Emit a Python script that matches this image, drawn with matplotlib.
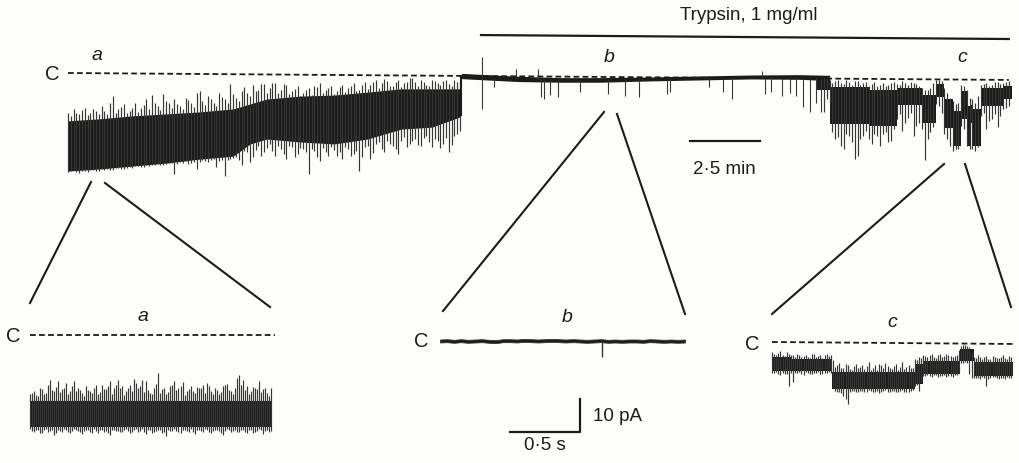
import numpy as np
import matplotlib.pyplot as plt

plt.rcParams['font.family'] = ['Liberation Sans', 'DejaVu Sans']

W, H = 1019, 464
INK = '#1b1b1b'
SPK = '#363636'

# ---------------- top record: time in min, current in pA ----------------
# a: before trypsin, dense openings
a_core_t = [0, 1.1, 2.3, 3.5, 4.7, 5.9, 6.5, 7.1, 8.3, 9.5, 10.7, 11.9, 13.0, 14.0]
a_core_top = [-14.5, -13.9, -13.0, -12.4, -11.8, -10.9, -9.4, -7.9, -7.0, -6.7, -5.8, -4.8, -4.8, -4.8]
a_core_bot = [-29.7, -29.1, -28.2, -27.3, -26.1, -25.2, -21.5, -20.0, -20.9, -21.5, -20.0, -17.0, -16.4, -13.3]
# spike tips every 0.1 min (two interleaved reads)
a_up = [-12.0, -11.0, -12.5, -10.5, -12.0, -11.5, -10.0, -12.5, -7.0, -11.0,
        -9.5, -11.5, -9.0, -10.5, -8.0, -6.8, -10.0, -6.5, -9.0, -8.0,
        -10.0, -7.5, -9.0, -6.0, -8.5, -7.0, -9.0, -6.0, -8.0, -3.2,
        -7.5, -5.5, -6.0, -3.6, -5.0, -3.3, -4.5, -3.0, -5.0, -3.5,
        -5.5, -4.0, -6.0, -4.5, -3.8, -3.0, -5.0, -4.0, -5.5, -3.5,
        -4.5, -3.0, -5.0, -2.8, -3.5, -2.0, -3.0, -2.5, -3.8, -2.2,
        -3.0, -1.6, -2.8, -2.2, -3.5, -2.0, -3.0, -2.5, -3.2, -2.0, -2.5]
a_up_mid = [-13.0, -12.2, -11.2, -12.8, -10.8, -12.4, -11.6, -9.0, -12.0, -10.4,
            -12.2, -10.6, -11.8, -9.6, -11.0, -9.2, -11.2, -8.6, -10.6, -9.4,
            -11.0, -8.2, -10.2, -5.5, -9.8, -8.0, -10.0, -7.2, -9.2, -6.5,
            -8.6, -4.2, -7.0, -5.5, -3.4, -6.0, -3.0, -6.2, -3.3, -6.5,
            -4.8, -7.0, -5.2, -6.6, -4.2, -6.0, -4.6, -6.4, -4.2, -5.8,
            -4.0, -5.6, -3.6, -4.8, -2.6, -4.4, -1.8, -4.0, -2.8, -4.2,
            -2.6, -1.5, -3.8, -2.6, -4.0, -2.4, -3.6, -2.2, -3.8, -2.6]
a_down = [-30.0, -29.5, -30.2, -29.8, -29.5, -29.8, -29.2, -29.0, -29.4, -28.8,
          -29.0, -28.5, -28.3, -28.6, -27.9, -28.0, -27.5, -27.8, -27.2, -30.6,
          -27.0, -26.8, -27.2, -29.1, -26.5, -27.0, -26.2, -26.6, -31.2, -26.0,
          -25.5, -28.0, -24.0, -25.5, -22.0, -24.0, -21.5, -25.0, -23.0, -26.0,
          -22.5, -24.5, -23.0, -30.6, -23.5, -26.7, -24.0, -22.5, -25.0, -26.1,
          -23.0, -24.5, -29.7, -22.5, -26.1, -21.5, -23.0, -20.5, -22.0, -24.5,
          -19.5, -21.5, -20.0, -22.0, -19.0, -22.4, -20.5, -21.5, -23.9, -19.0, -17.6]
a_down_mid = [-29.7, -30.1, -29.6, -29.9, -29.4, -29.6, -29.3, -29.5, -28.9, -29.2,
              -28.7, -28.9, -28.2, -28.4, -28.1, -27.8, -28.0, -27.6, -27.4, -27.6,
              -27.2, -27.5, -26.9, -27.1, -26.8, -26.4, -28.5, -26.3, -26.5, -25.8,
              -26.5, -23.5, -27.0, -23.2, -25.0, -22.8, -23.5, -22.2, -24.6, -22.0,
              -25.6, -22.6, -24.0, -23.0, -25.5, -22.8, -25.2, -23.2, -24.0, -22.4,
              -25.0, -23.6, -25.5, -22.0, -24.2, -20.8, -24.0, -21.5, -23.0, -20.5,
              -22.5, -20.6, -21.8, -19.8, -21.0, -20.0, -22.8, -19.6, -21.8, -18.5]

# b: trypsin, channel closed
b_t = [14.05, 14.7, 16.1, 17.6, 19.0, 20.8, 22.6, 24.4, 26.1, 27.2]
b_level = [-0.9, -1.2, -1.8, -2.1, -2.1, -1.8, -1.5, -1.2, -1.2, -1.5]
b_half = [0.8, 0.8, 0.8, 0.7, 0.7, 0.6, 0.6, 0.6, 0.7, 0.8]
b_spk_t = [14.8, 14.8, 15.2, 16.0, 16.8, 16.9, 17.0, 17.2, 17.5, 18.3, 19.3, 19.9, 20.4,
           21.4, 21.5, 22.9, 23.4, 23.7, 24.8, 24.9, 25.1, 25.5, 25.8, 26.0, 26.25,
           26.5, 26.7, 26.9, 27.1]
b_spk_tip = [4.8, -10.9, -4.2, 1.2, 1.2, -7.3, -7.9, -6.7, -7.3, -5.8, -6.4, -7.0, -7.3,
             -6.4, -5.8, -4.2, -5.8, -7.9, 0.6, -6.4, -5.8, -7.0, -6.0, -7.0, -10.3,
             -11.8, -9.0, -11.8, -8.0]

# c: activity returns
c_edges = [26.75, 27.2, 28.6, 29.6, 30.5, 31.0, 31.3, 31.6, 31.9, 32.1, 32.2, 32.3, 32.6, 33.4, 33.7]
c_core_top = [-2.2, -4.2, -5.0, -4.6, -6.6, -3.4, -8.0, -11.6, -5.6, -10.0, -9.6, -10.8, -4.6, -4.0]
c_core_bot = [-5.2, -15.5, -16.0, -9.8, -15.0, -7.2, -16.8, -22.0, -13.8, -22.0, -15.2, -22.0, -10.0, -8.0]
c_up = [-1.5, -2.0, -2.5, -3.0, -2.2, -3.5, -2.5, -3.0, -3.8, -2.8, -3.5, -4.0, -3.0, -3.2,
        -2.5, -3.5, -3.0, -3.8, -5.0, -4.5, -2.2, -2.5, -6.0, -8.5, -9.0, -4.0, -7.5, -9.0,
        -3.5, -3.0, -3.5, -2.8, -3.0, -2.5]
c_up_mid = [-1.8, -3.0, -2.2, -3.4, -2.8, -2.4, -3.6, -2.6, -3.2, -4.0, -3.0, -3.6, -2.8,
            -3.5, -3.0, -2.6, -3.4, -4.4, -5.2, -3.0, -2.0, -4.5, -7.5, -9.5, -3.6, -5.0,
            -8.0, -7.0, -3.2, -3.8, -2.6, -3.4, -2.8]
c_down = [-11.8, -9.0, -20.0, -22.0, -18.5, -21.0, -25.0, -19.0, -20.0, -18.5, -22.0, -18.0,
          -20.5, -14.0, -17.5, -13.5, -19.0, -15.0, -26.5, -18.0, -9.5, -12.0, -20.0, -23.5,
          -23.0, -17.0, -23.0, -23.5, -13.0, -17.0, -14.0, -16.5, -11.0, -10.0]
c_down_mid = [-7.0, -18.0, -19.5, -23.0, -19.0, -26.1, -20.0, -17.5, -21.5, -19.0, -18.5,
              -21.0, -17.0, -12.5, -15.0, -12.0, -16.0, -17.0, -20.0, -16.5, -10.0, -18.5,
              -22.0, -23.0, -16.0, -22.0, -23.0, -22.5, -12.0, -14.5, -12.5, -13.0, -10.5]

closed_top = [0.0, -2.1]          # dashed closed level, start and end of record

# ---------------- expanded records: time in s, current in pA ----------------
ea_core = (-20.0, -27.8)
ea_up = [-18.0, -17.0, -18.5, -16.5, -17.5, -13.5, -17.0, -14.0, -16.5, -14.5,
         -17.0, -13.8, -16.0, -17.5, -15.5, -17.0, -16.0, -18.0, -15.0, -16.5,
         -14.0, -16.0, -13.5, -15.5, -17.0, -15.0, -13.2, -16.0, -13.5, -14.0,
         -17.5, -16.0, -11.5, -16.5, -18.0, -15.5, -13.8, -16.0, -14.2, -17.0,
         -15.5, -17.5, -16.0, -15.0, -14.5, -17.0, -16.0, -18.0, -15.5, -14.8,
         -17.0, -16.0, -12.0, -13.5, -15.5, -17.0, -16.0, -14.0, -16.5, -17.5, -16.0]
ea_up_mid = [-17.5, -18.2, -16.0, -17.8, -15.0, -16.8, -15.8, -17.2, -16.2, -18.0,
             -15.4, -17.0, -16.6, -18.4, -16.8, -17.6, -15.2, -17.4, -16.4, -15.6,
             -17.8, -15.0, -16.2, -18.2, -16.0, -17.0, -14.6, -15.4, -17.2, -16.6,
             -18.0, -14.8, -17.6, -16.2, -17.4, -15.2, -16.8, -15.6, -18.2, -16.4,
             -17.0, -15.8, -16.2, -17.6, -15.4, -18.0, -16.6, -17.2, -15.0, -16.8,
             -17.8, -13.0, -15.2, -16.6, -18.0, -15.8, -16.4, -17.2, -16.0, -18.4]
ea_down = [-28.5, -29.5, -28.8, -29.8, -28.6, -29.2, -30.2, -28.7, -29.4, -28.9,
           -29.8, -28.5, -29.1, -30.0, -28.8, -29.3, -28.6, -29.6, -28.9, -29.2,
           -30.4, -28.7, -29.0, -29.5, -28.6, -29.8, -28.9, -29.3, -28.5, -29.9,
           -28.8, -29.4, -28.7, -29.6, -30.6, -29.0, -28.6, -29.5, -28.9, -29.2,
           -28.6, -30.1, -28.8, -29.4, -28.7, -29.6, -28.9, -29.2, -30.3, -28.6,
           -29.5, -28.9, -29.3, -28.7, -29.7, -28.8, -29.4, -28.6, -29.9, -28.9, -29.2]
ea_down_mid = [-29.0, -28.7, -29.6, -28.9, -29.4, -28.8, -29.7, -29.1, -28.6, -29.3,
               -29.0, -28.8, -29.5, -29.2, -28.7, -29.6, -29.0, -28.9, -29.3, -29.8,
               -28.7, -29.1, -29.4, -28.8, -29.2, -29.5, -28.6, -29.0, -29.3, -28.8,
               -29.6, -29.1, -28.9, -29.4, -28.7, -29.2, -29.0, -29.7, -28.8, -29.3,
               -29.5, -28.9, -29.1, -28.6, -29.4, -29.0, -28.8, -29.6, -29.2, -28.7,
               -29.1, -29.5, -28.9, -29.3, -28.8, -29.6, -29.0, -28.7, -29.2, -29.4]

eb_noise = [0.0, 0.1, -0.1, 0.1, -0.1, 0.0, 0.1, -0.1, -0.2, 0.1, 0.1, 0.0,
            0.2, 0.1, 0.0, 0.1, 0.2, 0.1, 0.0, 0.1, 0.0, -0.1, 0.0, 0.1,
            -0.1, 0.0, -0.1, 0.0, 0.0, -0.1, 0.1, 0.0, -0.1, 0.0, -0.1, 0.0]
eb_spk = (1.16, -4.8)

ec_edges = [0.0, 0.14, 0.43, 1.02, 1.08, 1.34, 1.44, 1.72]
ec_core_top = [-4.5, -5.2, -9.1, -6.7, -5.8, -2.1, -6.1]
ec_core_bot = [-8.8, -8.8, -14.2, -12.7, -9.7, -5.8, -10.3]
ec_up = [-3.0, -4.0, -2.8, -4.2, -3.5,
         -4.0, -3.5, -4.6, -3.8, -4.8, -3.6, -4.2, -4.9, -3.5, -4.0,
         -7.5, -6.5, -8.0, -7.0, -8.4, -6.8, -7.6, -8.2, -6.2, -7.8, -8.5, -7.0, -6.5,
         -8.0, -7.2, -8.6, -6.0, -7.5, -8.0,
         -5.0, -4.5,
         -3.8, -4.5, -3.6, -4.8, -3.5, -4.2, -3.8, -4.6, -4.0,
         -1.2, -0.8, -1.4,
         -4.5, -4.0, -5.0, -4.2, -5.2, -4.4, -4.8, -4.0, -5.0, -4.5]
ec_up_mid = [-3.6, -3.2, -3.9, -3.0, -3.8,
             -4.4, -3.9, -4.1, -4.5, -3.7, -4.6, -4.0, -3.8, -4.3, -5.5,
             -7.0, -7.8, -6.6, -8.2, -7.4, -8.0, -6.9, -7.3, -8.4, -7.1, -6.8, -7.9,
             -7.4, -8.1, -6.7, -7.6, -8.3, -7.0, -7.8,
             -5.5, -4.8,
             -4.2, -4.0, -4.4, -3.9, -4.6, -3.7, -4.3, -4.1, -2.5,
             -1.0, -1.3, -3.0,
             -4.8, -4.4, -4.6, -5.1, -4.3, -4.9, -4.5, -4.7, -4.2]
ec_down = [-9.5, -9.2, -10.0, -9.6, -13.3,
           -12.1, -9.3, -9.6, -9.2, -9.8, -9.4, -9.1, -9.7, -9.3, -9.5,
           -14.8, -15.0, -16.4, -18.8, -14.9, -15.2, -14.7, -15.0, -14.6, -15.3, -14.8,
           -15.1, -14.6, -15.2, -14.8, -15.0, -14.6, -15.1, -14.7,
           -13.2, -14.8,
           -10.3, -10.0, -10.5, -10.1, -10.4, -10.0, -10.3, -10.6, -10.1,
           -6.4, -6.2, -9.7,
           -10.8, -11.0, -10.7, -13.3, -10.9, -10.6, -11.1, -10.8, -10.7, -11.0]
ec_down_mid = [-9.3, -9.8, -9.4, -9.7, -9.4,
               -9.5, -9.2, -9.9, -9.4, -9.6, -9.3, -9.8, -9.5, -9.2, -14.0,
               -15.1, -15.6, -17.2, -15.0, -14.8, -15.3, -14.9, -15.2, -14.7, -15.0,
               -15.4, -14.8, -15.1, -14.9, -15.3, -14.7, -15.0, -15.2, -14.5,
               -13.0, -12.0,
               -10.2, -10.4, -10.1, -10.6, -10.2, -10.5, -10.3, -10.0, -9.0,
               -6.3, -6.5, -10.8,
               -10.9, -11.1, -10.8, -11.2, -10.7, -11.0, -10.9, -11.3, -10.8]
closed_c = [0.0, -0.6]


def weave(even, odd):
    out = np.empty(len(even) + len(odd))
    out[0::2] = even
    out[1::2] = odd
    return out


fig = plt.figure(figsize=(W / 100, H / 100), dpi=100, facecolor='#fdfdfc')


def trace_axes(ox, oy, sx, sy, box):
    # ox, oy: pixel of the data origin, sx / sy: pixels per unit
    x0, y0, x1, y1 = box
    ax = fig.add_axes([x0 / W, 1 - y1 / H, (x1 - x0) / W, (y1 - y0) / H])
    ax.set_xlim((x0 - ox) / sx, (x1 - ox) / sx)
    ax.set_ylim((oy - y1) / sy, (oy - y0) / sy)
    ax.axis('off')
    return ax


# top record
ax = trace_axes(68, 74, 28, 3.3, (0, 0, 1019, 200))
up, dn = weave(a_up, a_up_mid), weave(a_down, a_down_mid)
ta = np.linspace(0, 14.0, len(up))
ax.fill_between(a_core_t, a_core_top, a_core_bot, color=INK, lw=0)
ax.vlines(ta, dn, up, color=SPK, lw=0.85)
ax.vlines([14.02], -13.0, -0.9, color=INK, lw=1.5)
bl = np.array(b_level)
bh = np.array(b_half)
ax.fill_between(b_t, bl - bh, bl + bh, color=INK, lw=0)
ax.vlines(b_spk_t, np.interp(b_spk_t, b_t, b_level), b_spk_tip, color=SPK, lw=0.8)
ax.fill_between(c_edges, c_core_top + c_core_top[-1:], c_core_bot + c_core_bot[-1:],
                step='post', color=INK, lw=0)
up, dn = weave(c_up, c_up_mid), weave(c_down, c_down_mid)
tc = np.linspace(27.0, 33.6, len(up))
ax.vlines(tc, dn, up, color=SPK, lw=0.85)
ax.plot([0, 33.6], closed_top, ls=(0, (3.2, 1.8)), color=INK, lw=1.3, zorder=5)
# trypsin bar and time scale
ax.plot([14.75, 33.6], [11.5, 10.3], color=INK, lw=1.6)
ax.text(24.3, 17.6, 'Trypsin, 1 mg/ml', ha='center', va='center', fontsize=13.5, color=INK)
ax.plot([22.2, 24.7], [-20.5, -20.5], color=INK, lw=1.6)
ax.text(23.45, -28.9, '2·5 min', ha='center', va='center', fontsize=13.5, color=INK)

# expanded a
axa = trace_axes(30, 336, 140, 3.3, (0, 290, 300, 464))
up, dn = weave(ea_up, ea_up_mid), weave(ea_down, ea_down_mid)
te = np.linspace(0, 1.72, len(up))
axa.fill_between([0, 1.72], ea_core[0], ea_core[1], color=INK, lw=0)
axa.vlines(te, dn, up, color=SPK, lw=0.85)
axa.plot([0, 1.75], [0, 0], ls=(0, (3.2, 1.8)), color=INK, lw=1.3)

# expanded b
axb = trace_axes(440, 342, 140, 3.3, (390, 290, 720, 464))
tb = np.linspace(0, 1.75, len(eb_noise))
nb = np.array(eb_noise)
axb.fill_between(tb, nb - 0.45, nb + 0.45, color=INK, lw=0.6, edgecolor=SPK)
axb.vlines([eb_spk[0]], 0, eb_spk[1], color=SPK, lw=1.0)
# 10 pA / 0.5 s bars
axb.plot([0.5, 1.0, 1.0], [-27.6, -27.6, -17.6], color=INK, lw=1.6)
axb.text(1.09, -22.7, '10 pA', ha='left', va='center', fontsize=13.5, color=INK)
axb.text(0.75, -31.4, '0·5 s', ha='center', va='center', fontsize=13.5, color=INK)

# expanded c
axc = trace_axes(772, 343, 140, 3.3, (730, 290, 1019, 464))
axc.fill_between(ec_edges, ec_core_top + ec_core_top[-1:], ec_core_bot + ec_core_bot[-1:],
                 step='post', color=INK, lw=0)
up, dn = weave(ec_up, ec_up_mid), weave(ec_down, ec_down_mid)
tce = np.linspace(0, 1.71, len(up))
axc.vlines(tce, dn, up, color=SPK, lw=0.85)
axc.plot([0, 1.73], closed_c, ls=(0, (3.2, 1.8)), color=INK, lw=1.3)

# overlay: labels and expansion lines
ov = fig.add_axes([0, 0, 1, 1])
ov.set_xlim(0, W)
ov.set_ylim(H, 0)
ov.axis('off')
for x, y in [(52, 74), (13, 337), (421, 342), (752, 345)]:
    ov.text(x, y, 'C', ha='center', va='center', fontsize=14.5, color=INK)
for x, y, s in [(97, 55, 'a'), (609, 57, 'b'), (962, 57, 'c'),
                (143, 317, 'a'), (567, 318, 'b'), (892, 323, 'c')]:
    ov.text(x, y, s, ha='center', va='center', fontsize=14, style='italic', color=INK)
for (x0, y0), (x1, y1) in [((91, 183), (30, 304)), ((105, 184), (270, 308)),
                           ((604, 113), (443, 312)), ((617, 115), (685, 315)),
                           ((944, 165), (772, 315)), ((965, 165), (1011, 308))]:
    ov.plot([x0, x1], [y0, y1], color=INK, lw=1.5)

fig.savefig('out.png', dpi=100, facecolor=fig.get_facecolor())
